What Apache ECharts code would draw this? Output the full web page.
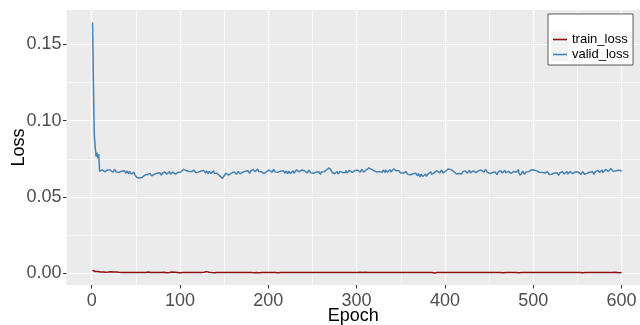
<!DOCTYPE html>
<html>
<head>
<meta charset="utf-8">
<script src="https://cdn.jsdelivr.net/npm/echarts@6/dist/echarts.min.js"></script>
<style>html,body{margin:0;padding:0;background:#fff}#c{width:640px;height:325px}</style>
</head>
<body>
<div id="c"></div>
<script>
const seriesNames = ['train_loss', 'valid_loss'];
const xTicks = [0, 100, 200, 300, 400, 500, 600];
const xMinor = [50, 150, 250, 350, 450, 550];
const yTicks = [0, 0.05, 0.10, 0.15];
const yMinor = [0.025, 0.075, 0.125];
const epochs = Array.from({length: 600}, (_, i) => i + 1);

const validLoss = [
.1642,.1230,.0900,.0830,.0765,.0790,.0755,.0780,.0668,.0676,
.0668,.0678,.0670,.0681,.0665,.0675,.0663,.0677,.0673,.0666,
.0677,.0665,.0672,.0662,.0674,.0680,.0667,.0663,.0676,.0669,
.0662,.0673,.0656,.0669,.0666,.0659,.0672,.0663,.0655,.0670,
.0665,.0652,.0668,.0657,.0650,.0658,.0649,.0662,.0645,.0650,
.0629,.0639,.0631,.0624,.0628,.0636,.0627,.0640,.0635,.0642,
.0652,.0640,.0647,.0637,.0649,.0655,.0642,.0638,.0651,.0644,
.0649,.0660,.0643,.0656,.0653,.0646,.0659,.0650,.0642,.0657,
.0660,.0647,.0664,.0654,.0649,.0659,.0651,.0666,.0650,.0657,
.0653,.0663,.0655,.0666,.0650,.0660,.0648,.0662,.0658,.0651,
.0664,.0670,.0676,.0681,.0688,.0679,.0673,.0665,.0674,.0667,
.0672,.0660,.0667,.0657,.0669,.0675,.0662,.0658,.0671,.0664,
.0663,.0674,.0657,.0670,.0667,.0660,.0673,.0664,.0656,.0671,
.0665,.0652,.0669,.0659,.0654,.0664,.0656,.0671,.0655,.0662,
.0650,.0656,.0643,.0649,.0638,.0641,.0630,.0622,.0633,.0639,
.0646,.0656,.0648,.0659,.0643,.0653,.0641,.0655,.0651,.0644,
.0665,.0653,.0660,.0650,.0662,.0668,.0655,.0651,.0664,.0657,
.0662,.0673,.0656,.0669,.0666,.0659,.0672,.0663,.0655,.0670,
.0677,.0664,.0681,.0671,.0666,.0676,.0668,.0683,.0667,.0674,
.0656,.0666,.0658,.0669,.0653,.0663,.0651,.0665,.0661,.0654,
.0677,.0665,.0672,.0662,.0674,.0680,.0667,.0663,.0676,.0669,
.0662,.0673,.0656,.0669,.0666,.0659,.0672,.0663,.0655,.0670,
.0665,.0652,.0669,.0659,.0654,.0664,.0656,.0671,.0655,.0662,
.0668,.0678,.0670,.0681,.0665,.0675,.0663,.0677,.0673,.0666,
.0672,.0660,.0667,.0657,.0669,.0675,.0662,.0658,.0671,.0664,
.0655,.0666,.0649,.0662,.0659,.0652,.0665,.0656,.0648,.0663,
.0662,.0670,.0665,.0674,.0668,.0677,.0672,.0683,.0690,.0696,
.0676,.0662,.0655,.0664,.0652,.0661,.0657,.0666,.0650,.0659,
.0667,.0654,.0671,.0661,.0656,.0666,.0658,.0673,.0657,.0664,
.0664,.0674,.0666,.0677,.0661,.0671,.0659,.0673,.0669,.0662,
.0677,.0665,.0672,.0662,.0674,.0680,.0667,.0663,.0676,.0669,
.0678,.0684,.0680,.0690,.0683,.0692,.0681,.0676,.0684,.0672,
.0669,.0680,.0663,.0676,.0673,.0666,.0679,.0670,.0662,.0677,
.0673,.0660,.0677,.0667,.0662,.0672,.0664,.0679,.0663,.0670,
.0674,.0684,.0678,.0687,.0671,.0680,.0668,.0672,.0663,.0657,
.0662,.0650,.0657,.0647,.0659,.0665,.0652,.0648,.0661,.0654,
.0645,.0656,.0639,.0652,.0649,.0642,.0655,.0646,.0638,.0653,
.0645,.0632,.0649,.0639,.0634,.0644,.0636,.0651,.0635,.0642,
.0651,.0661,.0653,.0664,.0648,.0658,.0646,.0660,.0656,.0649,
.0672,.0660,.0667,.0657,.0669,.0675,.0662,.0658,.0671,.0664,
.0670,.0678,.0675,.0684,.0680,.0688,.0679,.0685,.0674,.0668,
.0657,.0668,.0651,.0664,.0661,.0654,.0667,.0658,.0650,.0665,
.0667,.0654,.0671,.0661,.0656,.0666,.0658,.0673,.0657,.0664,
.0662,.0672,.0664,.0675,.0659,.0669,.0657,.0671,.0667,.0660,
.0677,.0665,.0672,.0662,.0674,.0680,.0667,.0663,.0676,.0669,
.0653,.0664,.0647,.0660,.0657,.0650,.0663,.0654,.0646,.0661,
.0668,.0655,.0672,.0662,.0657,.0667,.0659,.0674,.0658,.0665,
.0658,.0668,.0660,.0671,.0655,.0665,.0653,.0667,.0663,.0656,
.0662,.0672,.0678,.0657,.0642,.0638,.0656,.0670,.0661,.0648,
.0655,.0664,.0660,.0671,.0666,.0675,.0670,.0678,.0673,.0682,
.0676,.0668,.0680,.0671,.0666,.0674,.0662,.0667,.0658,.0661,
.0662,.0650,.0657,.0647,.0659,.0665,.0652,.0648,.0661,.0654,
.0649,.0660,.0643,.0656,.0653,.0646,.0659,.0650,.0642,.0657,
.0661,.0648,.0665,.0655,.0650,.0660,.0652,.0667,.0651,.0658,
.0656,.0666,.0658,.0669,.0653,.0663,.0651,.0665,.0661,.0654,
.0663,.0651,.0658,.0648,.0660,.0666,.0653,.0649,.0662,.0655,
.0655,.0666,.0649,.0662,.0659,.0652,.0665,.0656,.0648,.0663,
.0671,.0658,.0675,.0665,.0660,.0670,.0662,.0677,.0661,.0668,
.0670,.0680,.0672,.0684,.0668,.0678,.0666,.0686,.0676,.0669,
.0668,.0678,.0670,.0681,.0665,.0675,.0663,.0677,.0673,.0668
];

const trainLoss = [
.0020,.0016,.0013,.0012,.0011,.0010,.0012,.0009,.0010,.0008,.0009,.0011,.0008,.0009,.0010,.0007,.0008,.0009,.0008,.0007,
.0008,.0010,.0007,.0009,.0008,.0007,.0008,.0009,.0007,.0008,.0007,.0007,.0006,.0006,.0007,.0006,.0006,.0005,.0006,.0005,
.0005,.0005,.0005,.0005,.0005,.0005,.0005,.0005,.0005,.0005,.0005,.0005,.0005,.0005,.0005,.0005,.0005,.0005,.0005,.0006,
.0005,.0007,.0006,.0008,.0006,.0007,.0005,.0006,.0008,.0006,.0007,.0005,.0006,.0007,.0008,.0006,.0005,.0007,.0006,.0005,
.0006,.0007,.0005,.0006,.0004,.0005,.0006,.0005,.0007,.0006,.0008,.0006,.0005,.0007,.0006,.0005,.0006,.0005,.0005,.0004,
.0005,.0006,.0005,.0007,.0006,.0005,.0006,.0005,.0005,.0006,.0005,.0005,.0005,.0005,.0005,.0005,.0005,.0006,.0005,.0005,
.0005,.0005,.0006,.0005,.0005,.0006,.0007,.0008,.0009,.0011,.0010,.0008,.0007,.0006,.0005,.0005,.0004,.0005,.0004,.0005,
.0005,.0005,.0005,.0005,.0005,.0005,.0005,.0005,.0005,.0005,.0005,.0005,.0005,.0005,.0006,.0005,.0005,.0005,.0005,.0005,
.0005,.0005,.0006,.0007,.0006,.0005,.0005,.0005,.0005,.0005,.0005,.0005,.0005,.0005,.0005,.0005,.0005,.0005,.0006,.0004,
.0005,.0007,.0005,.0004,.0006,.0003,.0005,.0004,.0006,.0004,.0005,.0007,.0005,.0006,.0004,.0005,.0007,.0005,.0006,.0005,
.0004,.0006,.0005,.0007,.0005,.0006,.0004,.0005,.0006,.0005,.0004,.0006,.0005,.0005,.0005,.0006,.0005,.0005,.0005,.0005,
.0005,.0005,.0006,.0005,.0005,.0005,.0006,.0005,.0005,.0005,.0005,.0006,.0005,.0005,.0005,.0005,.0005,.0006,.0005,.0005,
.0005,.0005,.0005,.0005,.0006,.0005,.0005,.0005,.0005,.0005,.0005,.0006,.0005,.0005,.0005,.0005,.0005,.0005,.0005,.0005,
.0005,.0006,.0005,.0005,.0005,.0005,.0005,.0005,.0006,.0005,.0005,.0005,.0005,.0005,.0005,.0006,.0005,.0005,.0005,.0005,
.0005,.0005,.0005,.0006,.0005,.0005,.0005,.0005,.0005,.0005,.0006,.0005,.0005,.0005,.0005,.0006,.0005,.0005,.0006,.0007,
.0006,.0008,.0010,.0007,.0006,.0008,.0006,.0005,.0006,.0007,.0005,.0006,.0005,.0007,.0006,.0005,.0006,.0005,.0005,.0006,
.0005,.0006,.0005,.0005,.0006,.0005,.0005,.0006,.0005,.0005,.0005,.0005,.0005,.0005,.0005,.0005,.0005,.0005,.0005,.0005,
.0005,.0005,.0005,.0005,.0005,.0005,.0005,.0005,.0005,.0005,.0005,.0005,.0005,.0005,.0005,.0005,.0005,.0005,.0005,.0005,
.0005,.0005,.0005,.0005,.0005,.0005,.0005,.0005,.0005,.0005,.0005,.0005,.0005,.0005,.0005,.0005,.0005,.0005,.0005,.0005,
.0005,.0005,.0005,.0005,.0005,.0004,.0003,.0002,.0004,.0005,.0005,.0005,.0005,.0005,.0005,.0005,.0005,.0005,.0005,.0005,
.0005,.0005,.0005,.0006,.0005,.0005,.0005,.0005,.0005,.0005,.0005,.0005,.0005,.0005,.0005,.0005,.0005,.0005,.0005,.0005,
.0005,.0005,.0005,.0005,.0005,.0005,.0005,.0005,.0005,.0005,.0005,.0005,.0005,.0005,.0005,.0005,.0005,.0005,.0005,.0005,
.0005,.0005,.0005,.0005,.0005,.0005,.0005,.0005,.0005,.0005,.0005,.0005,.0005,.0005,.0005,.0005,.0005,.0005,.0005,.0005,
.0005,.0005,.0006,.0004,.0005,.0003,.0005,.0004,.0006,.0005,.0004,.0006,.0005,.0007,.0005,.0004,.0006,.0005,.0004,.0006,
.0005,.0007,.0005,.0004,.0006,.0005,.0005,.0004,.0006,.0005,.0005,.0005,.0005,.0005,.0005,.0005,.0005,.0005,.0005,.0005,
.0005,.0005,.0005,.0005,.0005,.0005,.0005,.0005,.0005,.0005,.0005,.0005,.0005,.0005,.0005,.0005,.0005,.0006,.0005,.0005,
.0005,.0005,.0005,.0005,.0005,.0005,.0005,.0005,.0005,.0006,.0005,.0005,.0005,.0005,.0005,.0005,.0005,.0005,.0005,.0005,
.0005,.0005,.0005,.0005,.0005,.0005,.0005,.0005,.0005,.0005,.0005,.0005,.0005,.0005,.0005,.0004,.0003,.0005,.0005,.0005,
.0005,.0005,.0005,.0005,.0005,.0005,.0005,.0005,.0005,.0005,.0005,.0005,.0005,.0005,.0005,.0005,.0005,.0005,.0005,.0005,
.0005,.0005,.0005,.0006,.0005,.0005,.0005,.0005,.0006,.0004,.0005,.0007,.0005,.0004,.0006,.0005,.0004,.0003,.0005,.0006
];

const FONT = '"Liberation Sans", Arial, sans-serif';
const X_MIN = -28.5, X_MAX = 620.9;
const Y_MIN = -0.00766, Y_MAX = 0.17247;

const chart = echarts.init(document.getElementById('c'), null, {renderer: 'canvas'});

const majorAxisX = {
  type: 'value', min: X_MIN, max: X_MAX, gridIndex: 0, position: 'bottom',
  name: 'Epoch', nameLocation: 'middle', nameGap: 22, nameMoveOverlap: false,
  nameTextStyle: {fontFamily: FONT, fontSize: 18, color: '#000', verticalAlign: 'top'},
  axisLine: {show: false, onZero: false},
  axisTick: {show: true, length: 3.5, lineStyle: {color: '#333', width: 1}, customValues: xTicks},
  axisLabel: {show: true, margin: 7, fontFamily: FONT, fontSize: 18, color: '#4D4D4D', customValues: xTicks},
  splitLine: {show: true, lineStyle: {color: '#FFFFFF', width: 1.2}},
  z: 1
};
const minorAxisX = {
  type: 'value', min: X_MIN, max: X_MAX, gridIndex: 0, position: 'bottom',
  axisLine: {show: false, onZero: false},
  axisTick: {show: false, customValues: xMinor},
  axisLabel: {show: false, customValues: xMinor},
  splitLine: {show: true, lineStyle: {color: '#FFFFFF', width: 0.6}},
  z: 0
};
const majorAxisY = {
  type: 'value', min: Y_MIN, max: Y_MAX, gridIndex: 0, position: 'left',
  name: 'Loss', nameLocation: 'middle', nameGap: 38, nameRotate: 90, nameMoveOverlap: false,
  nameTextStyle: {fontFamily: FONT, fontSize: 18, color: '#000'},
  axisLine: {show: false, onZero: false},
  axisTick: {show: true, length: 3.5, lineStyle: {color: '#333', width: 1}, customValues: yTicks},
  axisLabel: {show: true, margin: 5, fontFamily: FONT, fontSize: 18, color: '#4D4D4D', customValues: yTicks,
    formatter: v => v.toFixed(2)},
  splitLine: {show: true, lineStyle: {color: '#FFFFFF', width: 1.2}},
  z: 1
};
const minorAxisY = {
  type: 'value', min: Y_MIN, max: Y_MAX, gridIndex: 0, position: 'left',
  axisLine: {show: false, onZero: false},
  axisTick: {show: false, customValues: yMinor},
  axisLabel: {show: false, customValues: yMinor},
  splitLine: {show: true, lineStyle: {color: '#FFFFFF', width: 0.6}},
  z: 0
};

const colors = {train_loss: '#8B1010', valid_loss: '#4682B4'};
const dataOf = {train_loss: trainLoss, valid_loss: validLoss};

const option = {
  animation: false,
  backgroundColor: '#FFFFFF',
  grid: {left: 66.5, top: 10, right: 0, bottom: 40, show: true, backgroundColor: '#EBEBEB', borderWidth: 0,
    containLabel: false, outerBoundsMode: 'none'},
  xAxis: [majorAxisX, minorAxisX],
  yAxis: [majorAxisY, minorAxisY],
  legend: {
    data: seriesNames,
    orient: 'vertical', left: 553, top: 33, itemGap: 2, padding: 0,
    itemWidth: 14, itemHeight: 1.6, icon: 'rect',
    textStyle: {fontFamily: FONT, fontSize: 13, color: '#000', lineHeight: 13},
    selectedMode: false, z: 10
  },
  graphic: [
    {type: 'rect', shape: {x: 548, y: 14, width: 85, height: 51}, style: {fill: '#FFFFFF', stroke: '#333', lineWidth: 0.8}, z: 5},
    {type: 'rect', shape: {x: 551, y: 31.5, width: 17, height: 15}, style: {fill: '#F2F2F2'}, z: 6},
    {type: 'rect', shape: {x: 551, y: 46.5, width: 17, height: 15}, style: {fill: '#F2F2F2'}, z: 6}
  ],
  series: seriesNames.map(name => ({
    name: name, type: 'line', xAxisIndex: 0, yAxisIndex: 0,
    data: dataOf[name].map((v, i) => [epochs[i], v]),
    showSymbol: false, symbol: 'none',
    lineStyle: {color: colors[name], width: 1.5},
    itemStyle: {color: colors[name]},
    z: 3
  }))
};
chart.setOption(option);
</script>
</body>
</html>
